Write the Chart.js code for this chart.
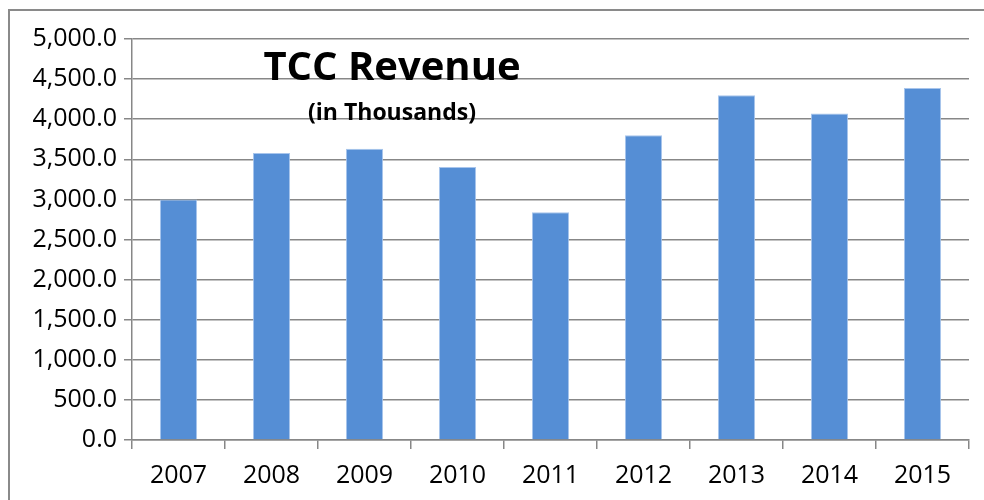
<!DOCTYPE html>
<html>
<head>
<meta charset="utf-8">
<script src="https://cdn.jsdelivr.net/npm/chart.js@4.4.1/dist/chart.umd.min.js"></script>
<style>
  html, body { margin: 0; padding: 0; background: #fff; }
  #wrap { position: relative; width: 984px; height: 500px; overflow: hidden; }
  #frame { position: absolute; left: 8px; top: 9px; width: 1000px; height: 520px;
           border: 2px solid #8a8a8a; box-sizing: border-box; pointer-events: none; }
</style>
</head>
<body>
<div id="wrap">
  <canvas id="revenue" width="984" height="500"></canvas>
  <div id="frame"></div>
</div>
<script>
// Data
const years = ['2007', '2008', '2009', '2010', '2011', '2012', '2013', '2014', '2015'];
const revenue = [3000, 3580, 3630, 3405, 2840, 3800, 4300, 4070, 4390];
const titleText = 'TCC Revenue';
const subtitleText = '(in Thousands)';

const gridColor = '#878787';
const fontFamily = '"Open Sans", "DejaVu Sans", sans-serif';

// Title sits inside the plot area, left of centre, like the original
const titleOverlay = {
  id: 'titleOverlay',
  afterDraw(chart) {
    const ctx = chart.ctx;
    ctx.save();
    ctx.fillStyle = '#000';
    ctx.textAlign = 'center';
    ctx.textBaseline = 'alphabetic';
    ctx.font = 'bold 40px ' + fontFamily;
    ctx.fillText(titleText, 392, 80);
    ctx.font = 'bold 23px ' + fontFamily;
    ctx.fillText(subtitleText, 392, 120);
    ctx.restore();
  }
};

const ctx = document.getElementById('revenue').getContext('2d');
new Chart(ctx, {
  type: 'bar',
  data: {
    labels: years,
    datasets: [{
      label: 'Revenue',
      data: revenue,
      backgroundColor: '#558ed5',
      borderColor: '#a8c5ec',
      borderWidth: 1,
      barPercentage: 0.4,
      categoryPercentage: 1.0
    }]
  },
  options: {
    responsive: false,
    animation: false,
    layout: {
      padding: { top: 39, right: 15, left: 0, bottom: 0 }
    },
    plugins: {
      legend: { display: false },
      tooltip: { enabled: false },
      title: { display: false }
    },
    scales: {
      x: {
        offset: true,
        grid: {
          offset: true,
          drawOnChartArea: false,
          drawTicks: true,
          tickLength: 9,
          color: gridColor,
          lineWidth: 1.5
        },
        border: { color: gridColor, width: 1.5 },
        ticks: {
          color: '#000',
          padding: 12,
          font: { family: fontFamily, size: 25 }
        },
        afterFit(scale) { scale.height = 60; }
      },
      y: {
        min: 0,
        max: 5000,
        grid: {
          color: gridColor,
          lineWidth: 1.5,
          tickLength: 8
        },
        border: { color: gridColor, width: 1.5 },
        ticks: {
          stepSize: 500,
          color: '#000',
          padding: 7,
          font: { family: fontFamily, size: 25 },
          callback: (v) => Number(v).toLocaleString('en-US', { minimumFractionDigits: 1, maximumFractionDigits: 1 })
        },
        afterFit(scale) { scale.width = 132; }
      }
    }
  },
  plugins: [titleOverlay]
});
</script>
</body>
</html>
